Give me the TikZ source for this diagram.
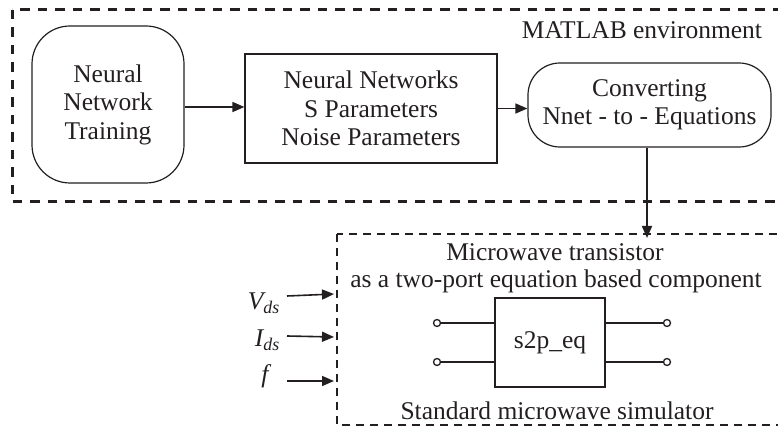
\documentclass[tikz,border=0pt]{standalone}
\usepackage{fontspec}
\setmainfont{Liberation Serif}
\usetikzlibrary{arrows.meta}
\definecolor{ink}{HTML}{231F20}
\begin{document}
\begin{tikzpicture}[x=1pt,y=-1pt,
  every node/.style={text=ink},
  txt/.style={font=\fontsize{25.5}{28.5}\selectfont, align=center, inner sep=0pt},
  dashframe/.style={draw=ink, line width=3pt, dash pattern=on 9.5pt off 8pt},
  dashframe2/.style={draw=ink, line width=2.8pt, dash pattern=on 8pt off 6pt},
  roundbox/.style={draw=ink, line width=1.2pt, txt, minimum width=#1},
  plainbox/.style={draw=ink, line width=1.2pt, txt},
  arr/.style={draw=ink, line width=1.6pt, -{Triangle[length=12pt,width=10pt]}},
  wire/.style={draw=ink, line width=1.6pt},
  term/.style={circle, draw=ink, line width=1.3pt, fill=white, minimum size=7pt, inner sep=0pt}
]
\useasboundingbox (0,0) rectangle (778,430);
% frames
\draw[dashframe] (12,10) rectangle (800,202);
\draw[dashframe2] (337,234) rectangle (800,425);
% top row
\node[roundbox=152, minimum height=157, rounded corners=38pt] (train) at (108,104.5) {Neural\\Network\\Training};
\node[plainbox, minimum width=252, minimum height=109] (nn) at (371,108.5) {Neural Networks\\S Parameters\\Noise Parameters};
\node[roundbox=243, minimum height=84, rounded corners=32pt] (conv) at (649.5,105) {Converting\\Nnet - to - Equations};
\node[txt] (matlab) at (642,30) {MATLAB environment};
\draw[arr] ([yshift=-2.5pt]train.east) -- ([yshift=-2.5pt]train.east -| nn.west);
\draw[arr] (nn.east) -- (nn.east -| conv.west);
\coordinate (simtop) at (647,238);
\draw[arr] (conv.south -| simtop) -- (simtop);
% lower box
\node[txt] (mt) at (555,252) {Microwave transistor};
\node[txt] (asa) at (556,281) {as a two-port equation based component};
\node[txt] (std) at (557,411) {Standard microwave simulator};
\node[plainbox, minimum width=110, minimum height=89] (s2p) at (550,342.5) {s2p\_eq};
\node[term] (t1) at (437,323) {};
\node[term] (t2) at (437,362) {};
\node[term] (t3) at (667,323) {};
\node[term] (t4) at (667,362) {};
\draw[wire] (t1) -- (t1 -| s2p.west);
\draw[wire] (t2) -- (t2 -| s2p.west);
\draw[wire] (t3) -- (t3 -| s2p.east);
\draw[wire] (t4) -- (t4 -| s2p.east);
% inputs
\node[txt, anchor=east] (vds) at (280,303) {\itshape V\textsubscript{ds}};
\node[txt, anchor=east] (ids) at (280,340) {\itshape I\textsubscript{ds}};
\node[txt] (f) at (265,376) {\itshape f};
\coordinate (v0) at (287,296); \coordinate (v1) at (334,294);
\coordinate (i0) at (287,336); \coordinate (i1) at (334,337);
\coordinate (f0) at (287,381); \coordinate (f1) at (334,381);
\draw[arr] (v0) -- (v1);
\draw[arr] (i0) -- (i1);
\draw[arr] (f0) -- (f1);
\end{tikzpicture}
\end{document}
